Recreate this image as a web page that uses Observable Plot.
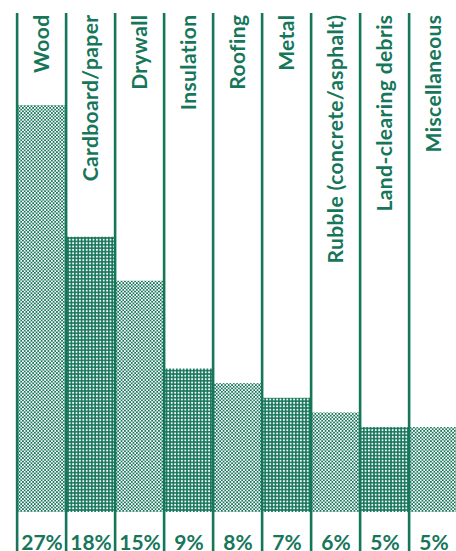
<!DOCTYPE html>
<html><head><meta charset="utf-8">
<script src="https://cdn.jsdelivr.net/npm/d3@7"></script>
<script src="https://cdn.jsdelivr.net/npm/@observablehq/plot@0.6"></script>
<style>html,body{margin:0;padding:0;background:#fff;overflow:hidden}</style>
</head><body><div id="chart"></div>
<script>
const categories = ["Wood","Cardboard/paper","Drywall","Insulation","Roofing","Metal","Rubble (concrete/asphalt)","Land-clearing debris","Miscellaneous"];
const shares = [27,18,15,9,8,7,6,5,5];
const percentLabels = ["27%","18%","15%","9%","8%","7%","6%","5%","5%"];

const data = categories.map((c, i) => ({category: c, share: shares[i], label: percentLabels[i], tone: i % 2 ? "dark" : "light"}));
const green = "#16765a";
const baseline = -0.8;
const xRange = [13, 461];
const bw = (xRange[1] - xRange[0]) / categories.length;
const font = "Lato, 'Noto Sans', sans-serif";

const plot = Plot.plot({
  width: 456, height: 551,
  marginTop: 13, marginBottom: 0, marginLeft: 13, marginRight: 0,
  x: {domain: categories, range: xRange, padding: 0, axis: null},
  y: {domain: [baseline, 27], range: [512, 105], axis: null},
  style: {background: "white", fontFamily: font},
  marks: [
    Plot.barY(data.filter(d => d.tone === "light"), {x: "category", y1: baseline, y2: "share", fill: green, className: "bar-light"}),
    Plot.barY(data.filter(d => d.tone === "dark"), {x: "category", y1: baseline, y2: "share", fill: green, className: "bar-dark"}),
    Plot.ruleX(categories, {x: d => d, dx: -bw / 2, stroke: green, strokeWidth: 2.6}),
    Plot.text(data, {x: "category", text: "category", frameAnchor: "top", dy: 1, rotate: -90, textAnchor: "end", lineAnchor: "middle", fill: green, fontSize: 21, fontWeight: 700, fontFamily: font, className: "cat-label"}),
    Plot.text(data, {x: "category", text: "label", frameAnchor: "bottom", dy: -8, lineAnchor: "middle", fill: green, fontSize: 21, fontWeight: 700, fontFamily: font})
  ]
});

const svg = d3.select(plot);
const defs = svg.insert("defs", ":first-child");
const pl = defs.append("pattern").attr("id", "dotsLight").attr("patternUnits", "userSpaceOnUse").attr("width", 3.4).attr("height", 3.4);
pl.append("rect").attr("width", 3.4).attr("height", 3.4).attr("fill", "#fff");
pl.append("rect").attr("width", 1.7).attr("height", 1.7).attr("fill", green);
pl.append("rect").attr("x", 1.7).attr("y", 1.7).attr("width", 1.7).attr("height", 1.7).attr("fill", green);
const pd = defs.append("pattern").attr("id", "dotsDark").attr("patternUnits", "userSpaceOnUse").attr("width", 3.4).attr("height", 3.4);
pd.append("rect").attr("width", 3.4).attr("height", 3.4).attr("fill", green);
pd.append("circle").attr("cx", 1.7).attr("cy", 1.7).attr("r", 1.0).attr("fill", "#fff");
svg.selectAll("g.bar-light").attr("fill", "url(#dotsLight)");
svg.selectAll("g.bar-dark").attr("fill", "url(#dotsDark)");
svg.selectAll(".bar-light rect").attr("fill", "url(#dotsLight)");
svg.selectAll(".bar-dark rect").attr("fill", "url(#dotsDark)");
svg.selectAll("g.cat-label text").style("letter-spacing", "0.4px");

document.getElementById("chart").appendChild(plot);
</script>
</body></html>
